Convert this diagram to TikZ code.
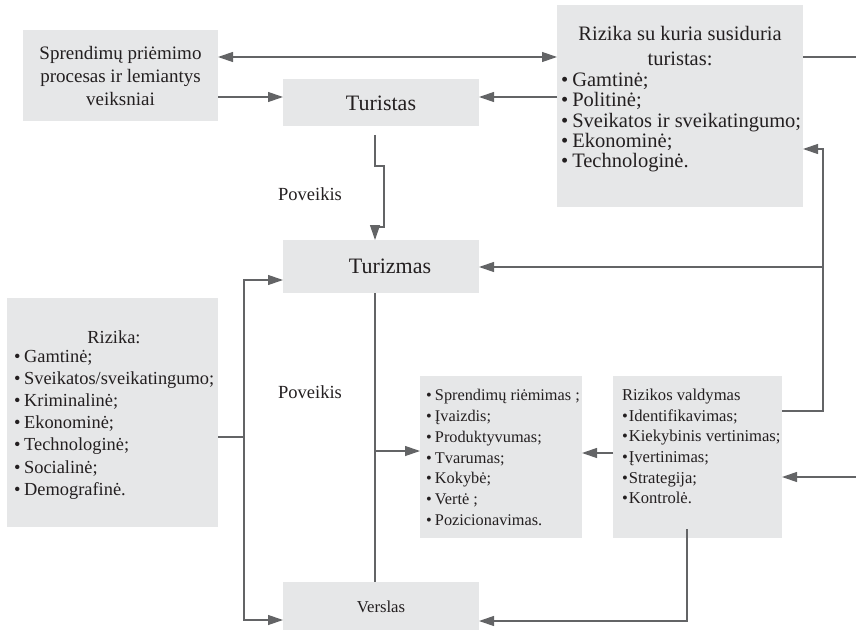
\documentclass[tikz,border=0pt]{standalone}
\usepackage{fontspec}
\setmainfont{Liberation Serif}
\usetikzlibrary{arrows.meta,calc}
\definecolor{boxgray}{HTML}{E6E7E8}
\definecolor{linegray}{HTML}{636466}
\definecolor{txtc}{HTML}{231F20}
\newcommand{\bl}{•\hspace{0.2em}}
\begin{document}
\begin{tikzpicture}[x=1pt,y=-1pt,
  box/.style={fill=boxgray, draw=none, inner sep=0pt, outer sep=0pt, anchor=north west},
  txtn/.style={inner sep=0pt, outer sep=0pt, text=txtc},
  conn/.style={draw=linegray, line width=1.2pt},
  arr/.style={conn, -{Triangle[length=15pt,width=10pt]}},
  darr/.style={conn, {Triangle[length=15pt,width=10pt]}-{Triangle[length=15pt,width=10pt]}}]
\useasboundingbox (0,0) rectangle (856,631);
% boxes
\node[box, minimum width=195pt, minimum height=91pt] (b1) at (23,30) {};
\node[box, minimum width=196pt, minimum height=47pt] (tur) at (283,79) {};
\node[box, minimum width=246pt, minimum height=202pt] (rst) at (557,5) {};
\node[box, minimum width=196pt, minimum height=53pt] (tzm) at (283,240) {};
\node[box, minimum width=211pt, minimum height=229pt] (rl) at (7,298) {};
\node[box, minimum width=162pt, minimum height=162pt] (mid) at (420,376) {};
\node[box, minimum width=169pt, minimum height=162pt] (rv) at (613,376) {};
\node[box, minimum width=196pt, minimum height=48pt] (ver) at (283,582) {};
% texts
\node[txtn, align=center, font=\fontsize{19}{23}\selectfont] (b1t) at (120.5,76) {Sprendimų priėmimo\\procesas ir lemiantys\\veiksniai};
\node[txtn, font=\fontsize{22}{26}\selectfont] (turt) at (381,103) {Turistas};
\node[txtn, align=center, font=\fontsize{20.5}{25}\selectfont] (rsth) at (680,46) {Rizika su kuria susiduria\\turistas:};
\node[txtn, align=left, anchor=west, font=\fontsize{20.5}{20.3}\selectfont] (rstl) at (561,122.5) {\bl Gamtinė;\\\bl Politinė;\\\bl Sveikatos ir sveikatingumo;\\\bl Ekonominė;\\\bl Technologinė.};
\node[txtn, font=\fontsize{22}{26}\selectfont] (tzmt) at (390,266) {Turizmas};
\node[txtn, font=\fontsize{18.5}{22}\selectfont] (pov1) at (310,194) {Poveikis};
\node[txtn, font=\fontsize{18.5}{22}\selectfont] (pov2) at (310,392) {Poveikis};
\node[txtn, font=\fontsize{18.4}{22}\selectfont] (rlh) at (114,337) {Rizika:};
\node[txtn, align=left, anchor=west, font=\fontsize{18.4}{22.2}\selectfont] (rll) at (14,424.5) {\bl Gamtinė;\\\bl Sveikatos/sveikatingumo;\\\bl Kriminalinė;\\\bl Ekonominė;\\\bl Technologinė;\\\bl Socialinė;\\\bl Demografinė.};
\node[txtn, align=left, anchor=west, font=\fontsize{16.3}{20.8}\selectfont] (midl) at (426,457.5) {\bl Sprendimų riėmimas ;\\\bl Įvaizdis;\\\bl Produktyvumas;\\\bl Tvarumas;\\\bl Kokybė;\\\bl Vertė ;\\\bl Pozicionavimas.};
\node[txtn, align=left, anchor=west, font=\fontsize{16.6}{20.6}\selectfont] (rvl) at (622,446.5) {Rizikos valdymas\\•\hspace{1pt}Identifikavimas;\\•\hspace{1pt}Kiekybinis vertinimas;\\•\hspace{1pt}Įvertinimas;\\•\hspace{1pt}Strategija;\\•\hspace{1pt}Kontrolė.};
\node[txtn, font=\fontsize{16.7}{20}\selectfont] (vert) at (381,607) {Verslas};
% free ends and junctions
\coordinate (outA) at (856,57);
\coordinate (outB) at (856,477);
\coordinate (splitL) at (244,437);
\coordinate (splitM) at (375,451);
\coordinate (vr) at (823,149);
\coordinate (splitR) at (823,267);
\coordinate (rvout) at (687,529);
% connectors
\draw[darr] (b1.east |- 0,57) -- (rst.west |- 0,57);
\draw[conn] (rst.east |- outA) -- (outA);
\draw[arr] (b1.east |- 0,97) -- (tur.west |- 0,97);
\draw[arr] (rst.west |- 0,97) -- (tur.east |- 0,97);
\draw[arr] ([xshift=-6pt,yshift=-9pt]tur.south) -- ++(0,31) -- ++(9,0) -- ++(0,61) -- ++(-9,0) -- (tzm.north -| 375,0);
\draw[conn] (rl.east |- splitL) -- (splitL);
\draw[arr] (splitL) |- (tzm.west |- 0,280);
\draw[arr] (splitL) |- (ver.west |- 0,620);
\draw[conn] (tzm.south -| splitM) -- (ver.north -| splitM);
\draw[arr] (splitM) -- (mid.west |- splitM);
\draw[arr] (rv.west |- 0,453) -- (mid.east |- 0,453);
\draw[arr] (outB) -- (rv.east |- outB);
\draw[arr] (rvout) |- (ver.east |- 0,621);
\draw[arr] (rv.east |- 0,411) -| (vr) -- (rst.east |- vr);
\draw[arr] (splitR) -- (tzm.east |- splitR);
\end{tikzpicture}
\end{document}
